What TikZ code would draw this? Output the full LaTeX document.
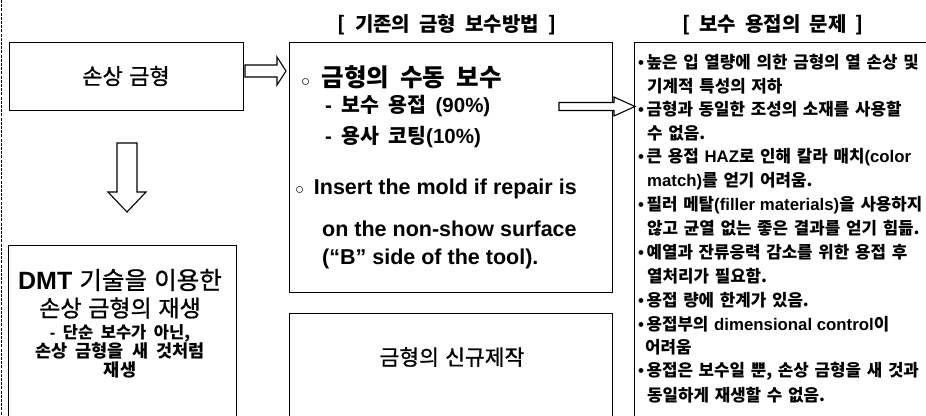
\documentclass[tikz,border=0pt]{standalone}
\usepackage{fontspec}
\setmainfont{Noto Sans CJK KR}[WordSpace=2]
\newfontfamily\krm{Noto Sans CJK KR}[FakeBold=0.9, WordSpace=2]
\newfontfamily\krmn{Noto Sans CJK KR}[FakeBold=0.9, WordSpace=1.3]
\newfontfamily\krr{Noto Sans CJK KR}[WordSpace=1.5]
\newfontfamily\lat{Liberation Sans}
\newcommand{\La}[1]{{\lat\bfseries #1}}
\newcommand{\fs}[1]{\fontsize{#1}{#1}\selectfont}
\newcommand{\blt}{{\lat\bfseries •}\hspace{2.5pt}}
\newcommand{\ocirc}{{\lat\fontsize{15}{15}\selectfont ○}}
\begin{document}
\begin{tikzpicture}[x=1pt,y=-1pt,
  box/.style={draw, line width=1.2pt, inner sep=0pt, anchor=north west},
  blk/.style={draw, line width=1.1pt, fill=white, line join=miter},
  lt/.style={inner sep=0pt, anchor=west},
  ct/.style={inner sep=0pt, anchor=center},
  rt/.style={lt, font=\krr\fs{16.8}\bfseries}]
\useasboundingbox (0,0) rectangle (926,415);
\fill[white] (0,0) rectangle (926,415);
\clip (0,0) rectangle (926,415);

% left edge line
\coordinate (L1) at (1,0);
\coordinate (L2) at (1,415);
\draw[line width=1pt, dash pattern=on 3pt off 1.2pt] (L1) -- (L2);

% boxes
\node[box, minimum width=234pt, minimum height=68pt]  (b1) at (9,42) {};
\node[box, minimum width=228pt, minimum height=200pt] (b2) at (8,245) {};
\node[box, minimum width=323pt, minimum height=250pt] (b3) at (289,42) {};
\node[box, minimum width=323pt, minimum height=150pt] (b4) at (289,313) {};
\node[box, minimum width=320pt, minimum height=400pt] (b5) at (634,42) {};

% block arrows
\draw[blk] (245,65) -- (277,65) -- (277,57) -- (286,71) -- (277,85) -- (277,77) -- (245,77) -- cycle;
\draw[blk] (117,143) -- (137,143) -- (137,192) -- (146,192) -- (127,212) -- (108,192) -- (117,192) -- cycle;
\draw[blk] (559,102.5) -- (614,102.5) -- (614,97) -- (635,106.5) -- (614,116) -- (614,110.5) -- (559,110.5) -- cycle;

% headers
\node[ct] (h1) at (447,25) {\fs{20}\bfseries [ 기존의 금형 보수방법 ]};
\node[ct] (h2) at (773,25) {\fs{20}\bfseries [ 보수 용접의 문제 ]};

% left column
\node[ct] (t1) at (126,76) {\fs{22}\krm 손상 금형};
\node[ct] (d1) at (120,280) {\fs{24.5}\krm \La{\fs{25}DMT} 기술을 이용한};
\node[ct] (d2) at (120,308) {\fs{23}\krmn 손상 금형의 재생};
\node[ct] (d3) at (120,333) {\fs{16.5}\bfseries \La{-} 단순 보수가 아닌,};
\node[ct] (d4) at (120,351) {\fs{17.5}\bfseries 손상 금형을 새 것처럼};
\node[ct] (d5) at (120,370) {\fs{17.5}\bfseries 재생};

% middle column
\node[lt] (m1) at (301,77)  {\fs{24.5}\bfseries \ocirc\ 금형의 수동 보수};
\node[lt] (m2) at (325,106) {\fs{20.5}\bfseries \La{-} 보수 용접 \La{(90\%)}};
\node[lt] (m3) at (325,137) {\fs{20.5}\bfseries \La{-} 용사 코팅\La{(10\%)}};
\node[lt] (m4) at (295,189) {\fs{21.5}\ocirc\ \La{Insert the mold if repair is}};
\node[lt] (m5) at (322,229) {\fs{21.5}\La{on the non-show surface}};
\node[lt] (m6) at (322,259) {\fs{21.5}\La{(“B” side of the tool).}};
\node[ct] (n1) at (452,357) {\fs{21.5}\krm 금형의 신규제작};

% right column
\node[rt] (r0)  at (638,62.0)  {\blt 높은 입 열량에 의한 금형의 열 손상 및};
\node[rt] (r1)  at (647,85.8)  {기계적 특성의 저하};
\node[rt] (r2)  at (638,109.6) {\blt 금형과 동일한 조성의 소재를 사용할};
\node[rt] (r3)  at (647,133.4) {수 없음.};
\node[rt] (r4)  at (638,157.2) {\blt 큰 용접 \La{HAZ}로 인해 칼라 매치\La{(color}};
\node[rt] (r5)  at (647,181.0) {\La{match)}를 얻기 어려움.};
\node[rt] (r6)  at (638,204.8) {\blt 필러 메탈\La{(filler materials)}을 사용하지};
\node[rt] (r7)  at (647,228.6) {않고 균열 없는 좋은 결과를 얻기 힘듦.};
\node[rt] (r8)  at (638,252.4) {\blt 예열과 잔류응력 감소를 위한 용접 후};
\node[rt] (r9)  at (647,276.2) {열처리가 필요함.};
\node[rt] (r10) at (638,300.0) {\blt 용접 량에 한계가 있음.};
\node[rt] (r11) at (638,323.8) {\blt 용접부의 \La{dimensional control}이};
\node[rt] (r12) at (645,347.6) {어려움};
\node[rt] (r13) at (638,371.4) {\blt 용접은 보수일 뿐, 손상 금형을 새 것과};
\node[rt] (r14) at (647,395.2) {동일하게 재생할 수 없음.};
\end{tikzpicture}
\end{document}
